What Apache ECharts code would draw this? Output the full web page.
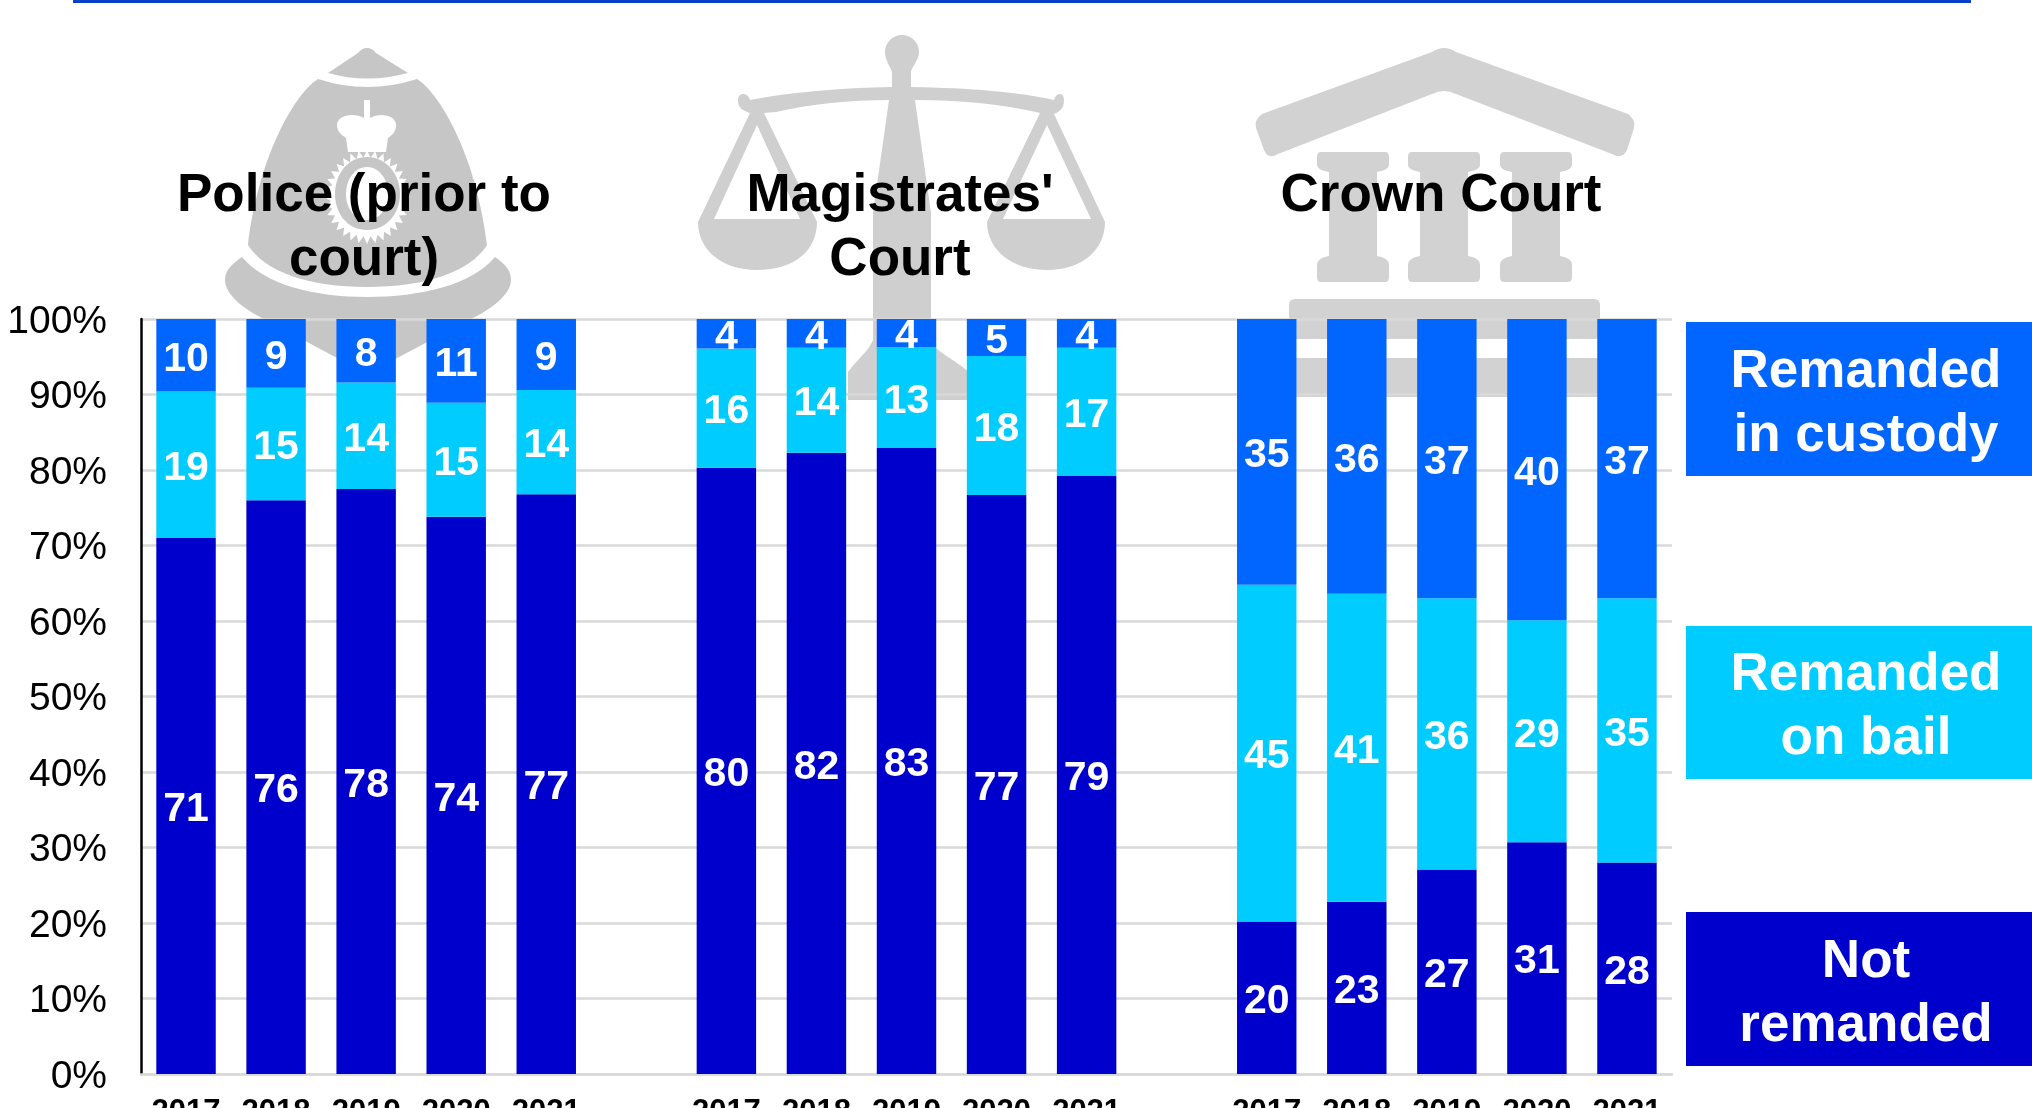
<!DOCTYPE html>
<html><head><meta charset="utf-8">
<style>html,body{margin:0;padding:0;background:#fff}#c{width:2032px;height:1108px}</style>
<script src="https://cdn.jsdelivr.net/npm/echarts@6/dist/echarts.min.js"></script>
</head><body><div id="c"></div>
<script>
const categories = ['2017','2018','2019','2020','2021','','2017','2018','2019','2020','2021','','2017','2018','2019','2020','2021'];
const notRemanded = [71.0,76.0,77.5,73.8,76.8,null,80.3,82.3,82.9,76.7,79.2,null,20.2,22.8,27.1,30.7,28.0];
const onBail      = [19.4,14.9,14.1,15.1,13.8,null,15.8,13.9,13.4,18.4,17.0,null,44.6,40.8,35.9,29.4,35.0];
const inCustody   = [ 9.6, 9.1, 8.4,11.1, 9.4,null, 3.9, 3.8, 3.7, 4.9, 3.8,null,35.2,36.4,37.0,39.9,37.0];
const yTicks = [0,10,20,30,40,50,60,70,80,90,100];
const FONT = '"Liberation Sans", Arial, sans-serif';
const DARK='#0000cc', LIGHT='#00ccff', MID='#0066ff';

function series(name,data,color){
  return {name,type:'bar',stack:'all',data,barWidth:'66%',itemStyle:{color},
    label:{show:true,position:'inside',offset:[0,4],color:'#fff',fontFamily:FONT,fontWeight:'bold',fontSize:41,
      formatter:p=>Math.round(p.value)}};
}
let shapeCount=0;
function p(d,fill){
  const name='iconShape'+(shapeCount++);
  echarts.graphic.registerShape(name,echarts.graphic.extendPath(d,{}));
  return {type:name,z:-1,style:{fill}};
}
function starPath(cx,cy,rx,ry,n){
  let d='';
  for(let i=0;i<n*2;i++){
    const a=i*Math.PI/n, k=i%2?0.84:1;
    d+=(i?'L':'M')+(cx+rx*k*Math.sin(a)).toFixed(1)+','+(cy-ry*k*Math.cos(a)).toFixed(1);
  }
  return d+'Z';
}
const H='#c6c6c6', S='#cfcfcf', C='#d2d2d2', W='#ffffff';
const icons=[
 // helmet
 p('M367,48 Q372,48 376,53 L408,73 Q367,84 328,73 L358,53 Q362,48 367,48Z',H),
 p('M318,79 Q367,95 417,79 C442,95 477,160 487,245 C470,272 425,287 367,287 C309,287 265,272 248,245 C258,160 293,95 318,79Z',H),
 p('M242,257 C265,285 315,297 367,297 C420,297 472,285 495,257 C505,264 511,270 511,280 C511,295 490,310 469,320 L382,366 Q367,375 352,366 L266,320 C245,310 225,295 225,280 C225,270 232,264 242,257Z',H),
 p('M364,100 L370,100 L370,118 C380,112 396,115 396,125 C396,132 392,135 388,138 L386,152 L348,152 L346,138 C342,135 337,132 337,125 C337,115 354,112 364,118Z',W),
 p(starPath(367,197,43,47,32),W),
 p('M367,157 C386,157 400,174 400,194 C400,214 386,230 367,230 C348,230 335,214 335,194 C335,174 348,157 367,157Z',H),
 p('M367,167 C379,167 388,179 388,194 C388,209 379,220 367,220 C355,220 346,209 346,194 C346,179 355,167 367,167Z',W),
 // scales
 p('M902,35 C912,35 919,43 919,52 C919,60 912,66 911,72 L911,87 C970,88 1020,92 1054,100 C1056,92 1064,92 1064,100 C1064,110 1058,112 1054,114 L1105,222 C1105,250 1082,270 1047,270 C1012,270 987,250 987,222 L1040,113 L1036,112 C1000,104 960,100 915,100 L931,213 L931,340 C935,352 950,356 969,372 L969,400 L848,400 L848,372 C860,356 868,352 873,340 L873,213 L889,100 C850,100 810,104 776,112 L764,113 L817,222 C817,250 795,270 757,270 C722,270 698,250 698,222 L750,113 C742,110 738,108 738,100 C738,92 748,92 750,100 C790,92 840,88 892,87 L892,72 C890,66 885,60 885,52 C885,43 892,35 902,35Z',S),
 p('M757,125 L714,219 L800,219 Z M1047,125 L1003,219 L1091,219 Z',W),
 // court
 p('M1432,52 Q1444,44 1456,52 L1628,114 Q1636,120 1634,128 L1627,150 Q1622,160 1612,154 L1456,94 Q1444,88 1432,94 L1278,154 Q1268,160 1264,150 L1256,128 Q1254,120 1262,114Z',C),
 ...[1353,1444,1536].map(x=>p(`M${x-32},152 L${x+32},152 Q${x+36},152 ${x+36},157 L${x+36},165 Q${x+36},170 ${x+24},172 L${x+24},256 Q${x+36},258 ${x+36},265 L${x+36},277 Q${x+36},282 ${x+32},282 L${x-32},282 Q${x-36},282 ${x-36},277 L${x-36},265 Q${x-36},258 ${x-24},256 L${x-24},172 Q${x-36},170 ${x-36},165 L${x-36},157 Q${x-36},152 ${x-32},152Z`,C)),
 p('M1295,299 L1594,299 Q1600,299 1600,305 L1600,333 Q1600,339 1594,339 L1295,339 Q1289,339 1289,333 L1289,305 Q1289,299 1295,299Z',C),
 p('M1275,358 L1620,358 L1620,397 L1275,397Z',C)
];
function box(x,y,w,h,fill,text){
  return [{type:'rect',z:5,shape:{x,y,width:w,height:h},style:{fill}},
    {type:'text',z:6,x:x+w/2+7,y:y+h/2+5,style:{text,fill:'#fff',font:'bold 53px '+FONT,align:'center',verticalAlign:'middle',lineHeight:64}}];
}
function title(x,y,text){
  return {type:'text',z:10,x,y,style:{text,fill:'#000',font:'bold 53px '+FONT,align:'center',verticalAlign:'top',lineHeight:64}};
}
const chart=echarts.init(document.getElementById('c'),null,{renderer:'canvas'});
chart.setOption({
  animation:false,backgroundColor:'#fff',
  grid:{left:141,right:360,top:319,bottom:34,containLabel:false,outerBoundsMode:'none'},
  xAxis:{type:'category',data:categories,
    axisLine:{show:true,lineStyle:{color:'#d9d9d9',width:2.5}},axisTick:{show:false},
    axisLabel:{interval:0,color:'#000',fontFamily:FONT,fontWeight:'bold',fontSize:31,margin:23}},
  yAxis:{type:'value',min:0,max:100,interval:10,
    axisLine:{show:true,onZero:false,lineStyle:{color:'#000',width:2.5}},axisTick:{show:false},
    axisLabel:{color:'#000',fontFamily:FONT,fontSize:39,margin:34,
      formatter:v=>yTicks.includes(v)?'{a|'+v+'%}':'',
      rich:{a:{color:'#000',fontFamily:FONT,fontSize:39,padding:[6,0,0,0]}}},
    splitLine:{show:true,lineStyle:{color:'#d9d9d9',width:2.5}}},
  series:[series('Not remanded',notRemanded,DARK),series('Remanded on bail',onBail,LIGHT),series('Remanded in custody',inCustody,MID)],
  graphic:{elements:[
    {type:'rect',z:5,shape:{x:73,y:0,width:1898,height:3},style:{fill:'#0a3fc8'}},
    ...icons,
    title(364,164,'Police (prior to\ncourt)'),
    title(900,164,"Magistrates'\nCourt"),
    title(1441,164,'Crown Court'),
    ...box(1686,322,346,154,MID,'Remanded\nin custody'),
    ...box(1686,626,346,153,LIGHT,'Remanded\non bail'),
    ...box(1686,912,346,154,DARK,'Not\nremanded')
  ]}
});
</script></body></html>
